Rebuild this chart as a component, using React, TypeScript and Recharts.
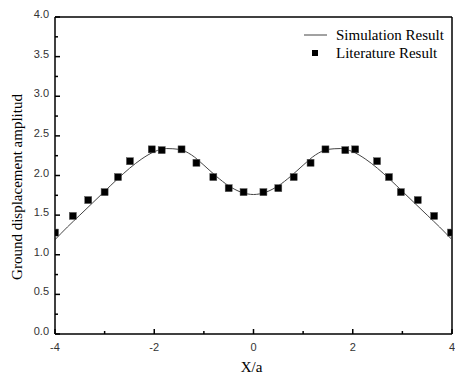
import React from "react";
import {
  ComposedChart, Line, Scatter, XAxis, YAxis, ReferenceLine, Label,
} from "recharts";

// ── Data ──────────────────────────────────────────────────────────────────────

const simX = [
  -4, -3.75, -3.5, -3.25, -3, -2.75, -2.5, -2.25, -2, -1.75, -1.5, -1.25, -1, -0.75, -0.5, -0.25,
  0, 0.25, 0.5, 0.75, 1, 1.25, 1.5, 1.75, 2, 2.25, 2.5, 2.75, 3, 3.25, 3.5, 3.75, 4,
];
const simY = [
  1.19, 1.35, 1.5, 1.65, 1.8, 1.95, 2.09, 2.21, 2.3, 2.34, 2.33, 2.26, 2.13, 1.99, 1.87, 1.79,
  1.76, 1.79, 1.87, 1.99, 2.13, 2.26, 2.33, 2.34, 2.3, 2.21, 2.09, 1.95, 1.8, 1.65, 1.5, 1.35, 1.19,
];

const litX = [
  -4.0, -3.64, -3.33, -3.0, -2.73, -2.49, -2.05, -1.85, -1.45, -1.15, -0.81, -0.5, -0.2,
  0.2, 0.5, 0.81, 1.15, 1.45, 1.85, 2.05, 2.49, 2.73, 2.97, 3.31, 3.64, 3.98,
];
const litY = [
  1.28, 1.49, 1.69, 1.79, 1.98, 2.18, 2.33, 2.32, 2.33, 2.16, 1.98, 1.84, 1.79,
  1.79, 1.84, 1.98, 2.16, 2.33, 2.32, 2.33, 2.18, 1.98, 1.79, 1.69, 1.49, 1.28,
];

const xTicks = [-4, -3, -2, -1, 0, 1, 2, 3, 4];
const yTicks = [0, 0.25, 0.5, 0.75, 1, 1.25, 1.5, 1.75, 2, 2.25, 2.5, 2.75, 3, 3.25, 3.5, 3.75, 4];

const simData = simX.map((x, i) => ({ x, y: simY[i] }));
const litData = litX.map((x, i) => ({ x, y: litY[i] }));

const SERIF = "'Liberation Serif', 'Times New Roman', serif";
const SANS = "'Liberation Sans', Arial, sans-serif";

// ── Inward ticks ─────────────────────────────────────────────────────────────

function XTick(props: any) {
  const { x, y, payload } = props;
  const major = payload.value % 2 === 0;
  return (
    <g>
      <line x1={x} x2={x} y1={y} y2={y - (major ? 5 : 3)} stroke="#000" strokeWidth={1.5} />
      {major && (
        <text x={x} y={y + 17} textAnchor="middle" fontSize={11} fontFamily={SANS} fill="#333">
          {payload.value}
        </text>
      )}
    </g>
  );
}

function YTick(props: any) {
  const { x, y, payload } = props;
  const major = Math.abs((payload.value * 2) % 1) < 1e-6;
  return (
    <g>
      <line x1={x} x2={x + (major ? 5 : 3)} y1={y} y2={y} stroke="#000" strokeWidth={1.5} />
      {major && (
        <text x={x - 6} y={y + 1} textAnchor="end" fontSize={11} fontFamily={SANS} fill="#333">
          {payload.value.toFixed(1)}
        </text>
      )}
    </g>
  );
}

function Square(props: any) {
  const { cx, cy } = props;
  return <rect x={cx - 3.5} y={cy - 3.5} width={7} height={7} fill="#000" stroke="#555" strokeWidth={0.5} />;
}

function LegendBox() {
  return (
    <div
      style={{
        position: "absolute", left: 300, top: 26,
        fontFamily: SERIF, fontSize: 15, color: "#000", lineHeight: "18px",
      }}
    >
      <div style={{ display: "flex", alignItems: "center" }}>
        <svg width={36} height={18}>
          <line x1={4} x2={27} y1={9} y2={9} stroke="#444" strokeWidth={1} />
        </svg>
        <span>Simulation Result</span>
      </div>
      <div style={{ display: "flex", alignItems: "center" }}>
        <svg width={36} height={18}>
          <rect x={12} y={6} width={6} height={6} fill="#000" />
        </svg>
        <span>Literature Result</span>
      </div>
    </div>
  );
}

export default function App() {
  return (
    <div style={{ position: "absolute", left: 0, top: 0, width: 455, height: 375, background: "#fff" }}>
      <ComposedChart width={455} height={375} margin={{ top: 17, right: 3, left: 0, bottom: 0 }}>
        <XAxis
          type="number"
          dataKey="x"
          domain={[-4, 4]}
          ticks={xTicks}
          interval={0}
          height={41}
          tickSize={0}
          tickMargin={0}
          tickLine={false}
          tick={<XTick />}
          axisLine={{ stroke: "#000", strokeWidth: 1.5 }}
          allowDataOverflow
        >
          <Label
            content={(p: any) => (
              <text x={p.viewBox.x + p.viewBox.width / 2 - 2} y={372} textAnchor="middle"
                fontSize={15} fontFamily={SERIF} fill="#000">X/a</text>
            )}
          />
        </XAxis>
        <YAxis
          type="number"
          domain={[0, 4]}
          ticks={yTicks}
          interval={0}
          width={55}
          tickSize={0}
          tickMargin={0}
          tickLine={false}
          tick={<YTick />}
          axisLine={{ stroke: "#000", strokeWidth: 1.5 }}
          allowDataOverflow
        >
          <Label
            content={() => (
              <text x={22} y={187} transform="rotate(-90 22 187)" textAnchor="middle"
                fontSize={15} fontFamily={SERIF} fill="#000">Ground displacement amplitud</text>
            )}
          />
        </YAxis>
        <ReferenceLine y={4} stroke="#000" strokeWidth={1.5} />
        <ReferenceLine x={4} stroke="#000" strokeWidth={1.5} />
        <Line
          data={simData}
          dataKey="y"
          type="monotone"
          stroke="#444"
          strokeWidth={1}
          dot={false}
          isAnimationActive={false}
          name="Simulation Result"
        />
        <Scatter
          data={litData}
          dataKey="y"
          shape={<Square />}
          isAnimationActive={false}
          name="Literature Result"
        />
      </ComposedChart>
      <LegendBox />
    </div>
  );
}
